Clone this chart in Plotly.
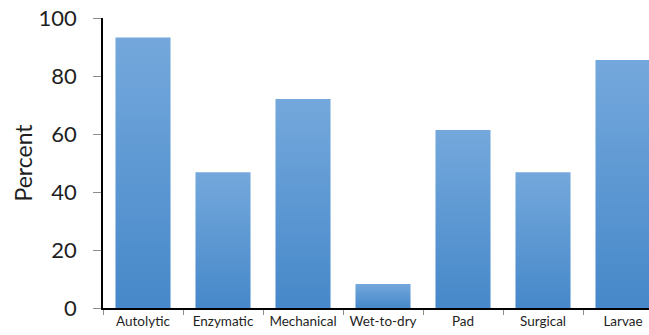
import plotly.graph_objects as go

# Debridement methods and share of respondents (percent)
categories = ["Autolytic", "Enzymatic", "Mechanical", "Wet-to-dry", "Pad", "Surgical", "Larvae"]
percent = [93.3, 46.8, 72.1, 8.3, 61.4, 46.8, 85.5]
y_ticks = [0, 20, 40, 60, 80, 100]

BAR_HALF = 0.344
X_RANGE = [-0.5, 6.325]
TOP_COLOR = "#74a8dc"
BOTTOM_COLOR = "#4688c9"
FONT = "Lato, Carlito, Calibri, 'Open Sans', sans-serif"

fig = go.Figure()

# Invisible category trace so the lower axis carries labels and boundary ticks
fig.add_trace(go.Bar(x=categories, y=[0] * len(categories), marker_color="rgba(0,0,0,0)",
                     hoverinfo="skip", showlegend=False))

# Each bar as a filled polygon with a vertical gradient (light top, dark bottom)
for i, (name, v) in enumerate(zip(categories, percent)):
    xs = [i - BAR_HALF, i - BAR_HALF, i + BAR_HALF, i + BAR_HALF, i - BAR_HALF]
    ys = [0, v, v, 0, 0]
    fig.add_trace(go.Scatter(
        x=xs, y=ys, xaxis="x2", yaxis="y", mode="lines",
        line=dict(width=0), fill="toself",
        fillgradient=dict(type="vertical",
                          colorscale=[[0, BOTTOM_COLOR], [1, TOP_COLOR]]),
        name=name, hovertemplate=f"{name}: %{{y}}%<extra></extra>", showlegend=False,
    ))

fig.update_layout(
    width=649, height=335,
    margin=dict(l=103, r=0, t=18, b=27),
    paper_bgcolor="white", plot_bgcolor="white",
    font=dict(family=FONT, color="#1f1f1f"),
    xaxis=dict(
        type="category", range=X_RANGE, tickson="boundaries", automargin=False,
        ticks="outside", ticklen=5, tickcolor="#8c8c8c", tickwidth=1,
        showline=True, linecolor="black", linewidth=1.5,
        showgrid=False, zeroline=False,
        tickfont=dict(size=13.5, family=FONT, color="#1f1f1f"),
    ),
    xaxis2=dict(overlaying="x", range=X_RANGE, visible=False),
    yaxis=dict(
        range=[0, 100], tickvals=y_ticks, automargin=False,
        ticks="outside", ticklen=8, tickcolor="#8c8c8c", tickwidth=1,
        ticklabelstandoff=12,
        showline=True, linecolor="black", linewidth=1.5,
        showgrid=False, zeroline=False,
        tickfont=dict(size=22, family=FONT, color="#1f1f1f"),
        title=dict(text="Percent", font=dict(size=23, family=FONT, color="#1f1f1f"), standoff=0),
    ),
)

fig.write_html("out.html")
